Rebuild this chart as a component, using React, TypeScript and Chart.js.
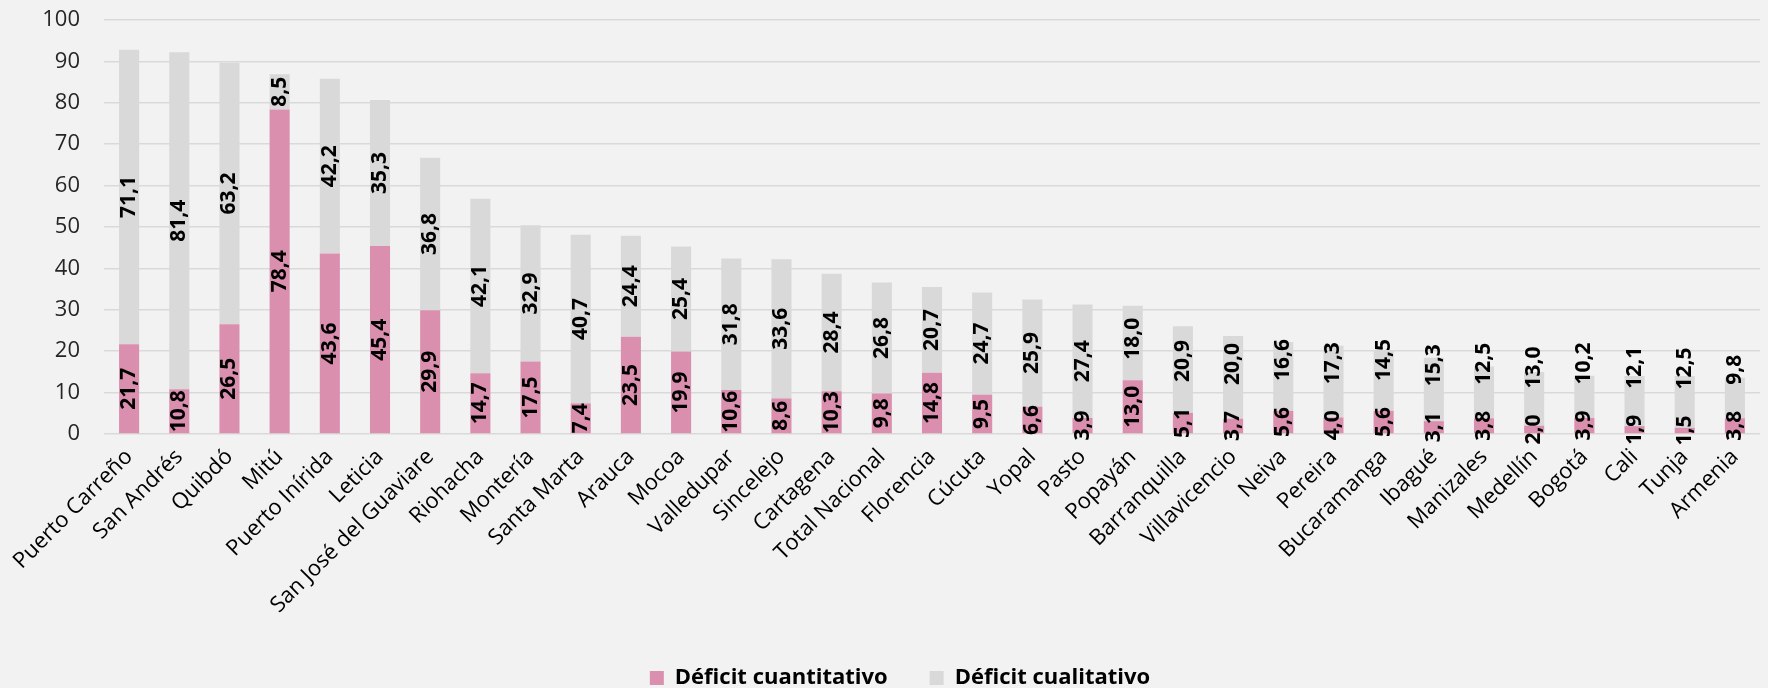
import React, { useEffect, useRef } from "react";
import { Chart, registerables } from "chart.js";

Chart.register(...registerables);

const categories = [
  "Puerto Carreño", "San Andrés", "Quibdó", "Mitú", "Puerto Inírida", "Leticia",
  "San José del Guaviare", "Riohacha", "Montería", "Santa Marta", "Arauca", "Mocoa",
  "Valledupar", "Sincelejo", "Cartagena", "Total Nacional", "Florencia", "Cúcuta",
  "Yopal", "Pasto", "Popayán", "Barranquilla", "Villavicencio", "Neiva", "Pereira",
  "Bucaramanga", "Ibagué", "Manizales", "Medellín", "Bogotá", "Cali", "Tunja", "Armenia",
];

const deficitCuantitativo = [
  21.7, 10.8, 26.5, 78.4, 43.6, 45.4, 29.9, 14.7, 17.5, 7.4, 23.5, 19.9, 10.6, 8.6, 10.3,
  9.8, 14.8, 9.5, 6.6, 3.9, 13.0, 5.1, 3.7, 5.6, 4.0, 5.6, 3.1, 3.8, 2.0, 3.9, 1.9, 1.5, 3.8,
];

const deficitCualitativo = [
  71.1, 81.4, 63.2, 8.5, 42.2, 35.3, 36.8, 42.1, 32.9, 40.7, 24.4, 25.4, 31.8, 33.6, 28.4,
  26.8, 20.7, 24.7, 25.9, 27.4, 18.0, 20.9, 20.0, 16.6, 17.3, 14.5, 15.3, 12.5, 13.0, 10.2,
  12.1, 12.5, 9.8,
];

const seriesNames = ["Déficit cuantitativo", "Déficit cualitativo"];

const FONT = "'Open Sans', 'Noto Sans', sans-serif";

const fmt = (v: number) => v.toFixed(1).replace(".", ",");

const bgPlugin = {
  id: "bg",
  beforeDraw(chart: any) {
    const { ctx, width, height } = chart;
    ctx.save();
    ctx.fillStyle = "#f2f2f2";
    ctx.fillRect(0, 0, width, height);
    ctx.restore();
  },
};

const LABEL_GAP = 26;

const labelPlugin = {
  id: "valueLabels",
  afterDatasetsDraw(chart: any) {
    const { ctx } = chart;
    ctx.save();
    ctx.font = `bold 21px ${FONT}`;
    ctx.fillStyle = "#000";
    ctx.textAlign = "center";
    ctx.textBaseline = "middle";
    const lower = chart.getDatasetMeta(0);
    const upper = chart.getDatasetMeta(1);
    const d0 = chart.data.datasets[0].data;
    const d1 = chart.data.datasets[1].data;
    const draw = (text: string, x: number, y: number) => {
      ctx.save();
      ctx.translate(x, y);
      ctx.rotate(-Math.PI / 2);
      ctx.fillText(text, 0, 0);
      ctx.restore();
    };
    lower.data.forEach((el: any, i: number) => {
      const t0 = fmt(d0[i]);
      const c0 = (el.y + el.base) / 2;
      const h0 = ctx.measureText(t0).width / 2;
      draw(t0, el.x, c0);
      const el1 = upper.data[i];
      const t1 = fmt(d1[i]);
      const h1 = ctx.measureText(t1).width / 2;
      let c1 = (el1.y + el1.base) / 2;
      const limit = c0 - h0 - LABEL_GAP - h1;
      if (c1 > limit) c1 = limit;
      draw(t1, el1.x, c1);
    });
    ctx.restore();
  },
};

export default function App() {
  const ref = useRef<HTMLCanvasElement | null>(null);

  useEffect(() => {
    document.body.style.margin = "0";
    document.body.style.background = "#f2f2f2";
    const chart = new Chart(ref.current as HTMLCanvasElement, {
      type: "bar",
      data: {
        labels: categories,
        datasets: [
          {
            label: seriesNames[0],
            data: deficitCuantitativo,
            backgroundColor: "#da8fae",
            barPercentage: 0.4,
            categoryPercentage: 1,
          },
          {
            label: seriesNames[1],
            data: deficitCualitativo,
            backgroundColor: "#d9d9d9",
            barPercentage: 0.4,
            categoryPercentage: 1,
          },
        ],
      },
      options: {
        animation: false,
        responsive: false,
        maintainAspectRatio: false,
        layout: { padding: { top: 20, right: 8, left: 40, bottom: 0 } },
        plugins: {
          legend: {
            position: "bottom",
            labels: {
              boxWidth: 14,
              boxHeight: 14,
              padding: 42,
              color: "#000",
              font: { family: FONT, size: 22, weight: "bold" },
            },
          },
          tooltip: { enabled: false },
        },
        scales: {
          x: {
            stacked: true,
            grid: { display: false },
            border: { display: false },
            ticks: {
              autoSkip: false,
              minRotation: 45,
              maxRotation: 45,
              color: "#000",
              padding: 2,
              font: { family: FONT, size: 22 },
            },
            afterFit(scale: any) {
              scale.height = 191;
            },
          },
          y: {
            stacked: true,
            min: 0,
            max: 100,
            border: { display: false },
            grid: {
              color: "#d9d9d9",
              lineWidth: 1.5,
              drawTicks: true,
              tickLength: 24,
              tickColor: "rgba(0,0,0,0)",
            },
            ticks: {
              stepSize: 10,
              padding: 0,
              color: "#262626",
              font: { family: FONT, size: 22 },
            },
            afterFit(scale: any) {
              scale.width = 64;
            },
          },
        },
      },
      plugins: [bgPlugin, labelPlugin],
    } as any);
    return () => chart.destroy();
  }, []);

  return (
    <div style={{ width: 1768, height: 688, overflow: "hidden", background: "#f2f2f2" }}>
      <canvas ref={ref} width={1768} height={699} style={{ display: "block" }} />
    </div>
  );
}
